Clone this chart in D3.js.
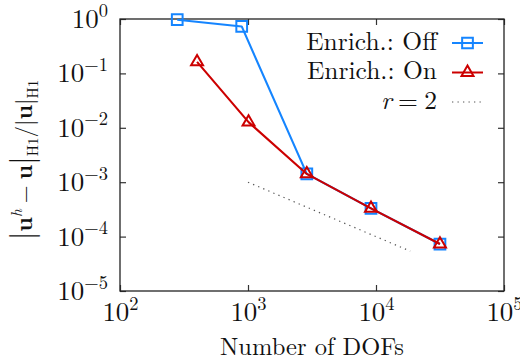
<!DOCTYPE html>
<html>
<head>
<meta charset="utf-8">
<script src="https://cdn.jsdelivr.net/npm/d3@7"></script>
<style>
  body { margin: 0; background: #fff; }
  svg { display: block; }
</style>
</head>
<body>
<svg id="chart" width="520" height="364"></svg>
<script>
// Relative H1 error vs. number of degrees of freedom
const dofsOff = [280, 893, 2880, 9140, 31600];
const errOff  = [0.97, 0.73, 1.42e-3, 3.3e-4, 7.3e-5];
const dofsOn  = [400, 1010, 2880, 9140, 31600];
const errOn   = [0.163, 0.0127, 1.42e-3, 3.3e-4, 7.3e-5];
// reference slope (rate r = 2)
const rateDofs = [1e3, 1.85e4];
const rateErr  = [1e-3, 5.4e-5];

const xTicks = [1e2, 1e3, 1e4, 1e5];
const yTicks = [1e-5, 1e-4, 1e-3, 1e-2, 1e-1, 1e0];
const seriesNames = ["Enrich.: Off", "Enrich.: On"];
const xTitle = "Number of DOFs";

const BLUE = "#1585ff", RED = "#cc0000", GREY = "#555";
const FONT = '"Latin Modern Roman", "Liberation Serif", serif';
const INK = "#111";

const svg = d3.select("#chart");
const plotL = 120, plotR = 504, plotT = 19, plotB = 291;

const x = d3.scaleLog().domain([1e2, 1e5]).range([plotL, plotR]);
const y = d3.scaleLog().domain([1e-5, 1e0]).range([plotB, plotT]);

// exponent label "10^e"
function powerLabel(sel, v) {
  const e = Math.round(Math.log10(v));
  sel.text(null);
  sel.append("tspan").text("10");
  sel.append("tspan").attr("font-size", 18.5).attr("dy", -11.5)
     .text(e < 0 ? "\u2212" + (-e) : String(e));
}

// axes with inward ticks on all four sides
const tick = 6;
const gB = svg.append("g").attr("transform", `translate(0,${plotB})`)
  .call(d3.axisBottom(x).tickValues(xTicks).tickSizeInner(-tick).tickSizeOuter(0));
const gT = svg.append("g").attr("transform", `translate(0,${plotT})`)
  .call(d3.axisTop(x).tickValues(xTicks).tickSizeInner(-tick).tickSizeOuter(0).tickFormat(""));
const gL = svg.append("g").attr("transform", `translate(${plotL},0)`)
  .call(d3.axisLeft(y).tickValues(yTicks).tickSizeInner(-tick).tickSizeOuter(0));
const gR = svg.append("g").attr("transform", `translate(${plotR},0)`)
  .call(d3.axisRight(y).tickValues(yTicks).tickSizeInner(-tick).tickSizeOuter(0).tickFormat(""));

[gB, gT, gL, gR].forEach(g => {
  g.select(".domain").remove();
  g.selectAll(".tick line").attr("stroke", "#333").attr("stroke-width", 1.2);
});

gB.selectAll(".tick text")
  .style("font-family", FONT).attr("font-size", 27).attr("fill", INK)
  .attr("y", 30).attr("dy", null).attr("text-anchor", "middle")
  .each(function(d) { powerLabel(d3.select(this), d); });

gL.selectAll(".tick text")
  .style("font-family", FONT).attr("font-size", 27).attr("fill", INK)
  .attr("x", -12).attr("dy", 8.5).attr("text-anchor", "end")
  .each(function(d) { powerLabel(d3.select(this), d); });

// frame
svg.append("rect")
  .attr("x", plotL).attr("y", plotT)
  .attr("width", plotR - plotL).attr("height", plotB - plotT)
  .attr("fill", "none").attr("stroke", "#222").attr("stroke-width", 1.3);

const line = d3.line().x(d => x(d[0])).y(d => y(d[1]));

// reference rate line
svg.append("path")
  .datum(d3.zip(rateDofs, rateErr))
  .attr("d", line)
  .attr("fill", "none").attr("stroke", GREY).attr("stroke-width", 1.2)
  .attr("stroke-dasharray", "1.3,4.2");

const squareSym = d3.symbol().type(d3.symbolSquare).size(115);
const triSym = d3.symbol().type(d3.symbolTriangle).size(62);

function drawSeries(xs, ys, color, sym) {
  const pts = d3.zip(xs, ys);
  svg.append("path").datum(pts).attr("d", line)
    .attr("fill", "none").attr("stroke", color).attr("stroke-width", 2.1)
    .attr("stroke-linejoin", "round");
  svg.append("g").selectAll("path").data(pts).join("path")
    .attr("transform", d => `translate(${x(d[0])},${y(d[1])})`)
    .attr("d", sym)
    .attr("fill", "none").attr("stroke", color).attr("stroke-width", 2);
}
drawSeries(dofsOff, errOff, BLUE, squareSym);
drawSeries(dofsOn, errOn, RED, triSym);

// legend
const legX = 437, legLine0 = 452, legLine1 = 483;
const legRows = [
  { y: 43, color: BLUE, sym: squareSym, dash: null, width: 2 },
  { y: 72.5, color: RED, sym: triSym, dash: null, width: 2 },
  { y: 102, color: GREY, sym: null, dash: "1.3,4.2", width: 1.2 }
];
legRows.forEach((r, i) => {
  svg.append("line")
    .attr("x1", legLine0).attr("x2", legLine1).attr("y1", r.y).attr("y2", r.y)
    .attr("stroke", r.color).attr("stroke-width", r.width)
    .attr("stroke-dasharray", r.dash);
  if (r.sym) {
    svg.append("path")
      .attr("transform", `translate(${(legLine0 + legLine1) / 2},${r.y})`)
      .attr("d", r.sym)
      .attr("fill", "none").attr("stroke", r.color).attr("stroke-width", 2);
  }
  const t = svg.append("text")
    .style("font-family", FONT).attr("fill", INK)
    .attr("x", legX).attr("y", r.y + 6.5).attr("text-anchor", "end")
    .attr("font-size", 25.5);
  if (i < 2) {
    t.text(seriesNames[i]);
  } else {
    t.append("tspan").attr("font-style", "italic").text("r");
    t.append("tspan").text("\u2005=\u20052");
  }
});

// x-axis title
svg.append("text")
  .style("font-family", FONT).attr("fill", INK)
  .attr("x", (plotL + plotR) / 2).attr("y", 355)
  .attr("text-anchor", "middle").attr("font-size", 24.5)
  .text(xTitle);

// y-axis title: |u^h − u|_H1 / |u|_H1
const yt = svg.append("text")
  .style("font-family", FONT).attr("fill", INK)
  .attr("transform", "translate(32,160) rotate(-90)")
  .attr("text-anchor", "middle").attr("font-size", 23);
yt.append("tspan").attr("font-size", 31).text("|");
yt.append("tspan").attr("font-weight", "bold").text("u");
yt.append("tspan").attr("font-style", "italic").attr("font-size", 15.5).attr("dy", -10).text("h");
yt.append("tspan").attr("dy", 10).text("\u2005\u2212\u2005");
yt.append("tspan").attr("font-weight", "bold").text("u");
yt.append("tspan").attr("font-size", 31).text("|");
yt.append("tspan").attr("font-size", 15).attr("dy", 6).text("H1");
yt.append("tspan").attr("dy", -6).text("/|");
yt.append("tspan").attr("font-weight", "bold").text("u");
yt.append("tspan").text("|");
yt.append("tspan").attr("font-size", 15).attr("dy", 6).text("H1");
</script>
</body>
</html>
